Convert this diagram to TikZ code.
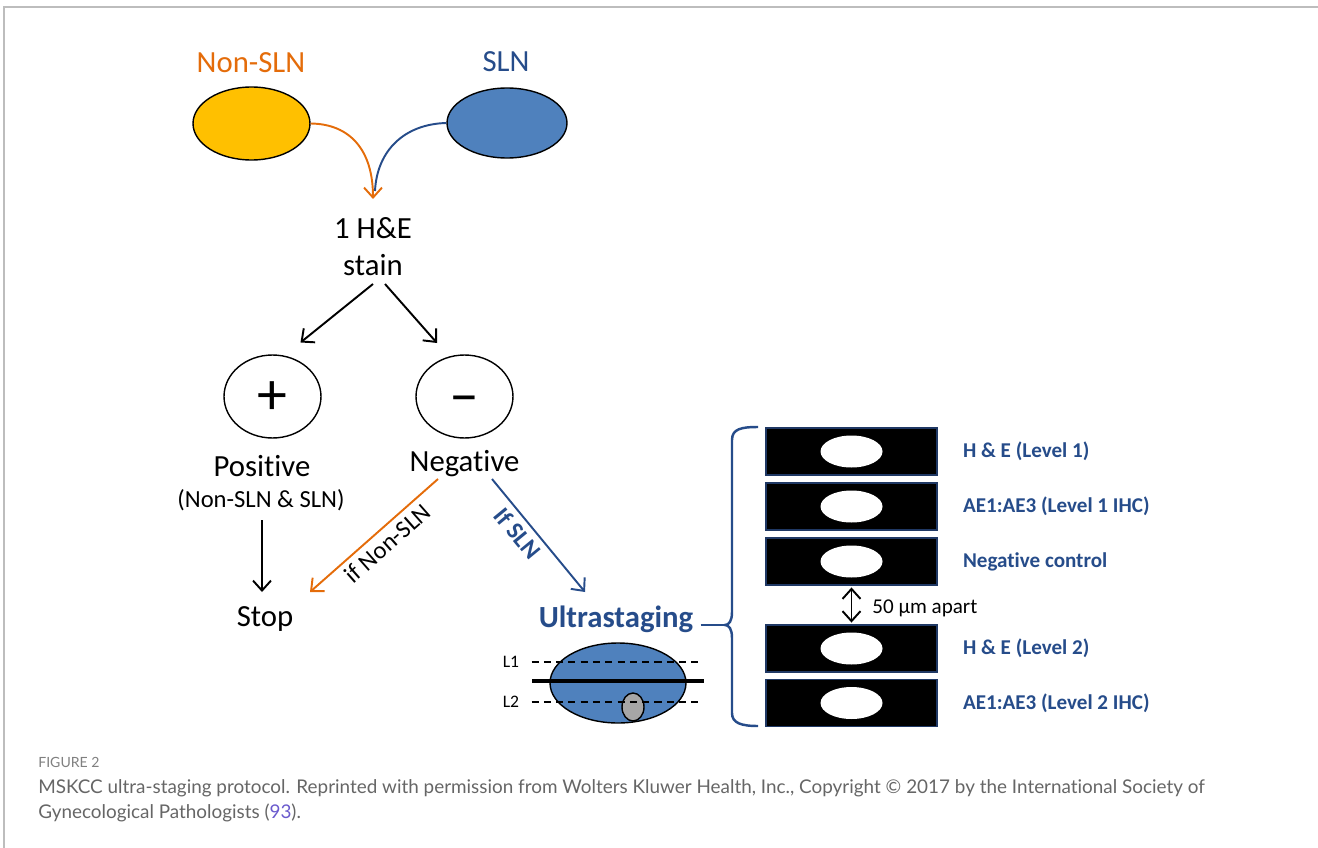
\documentclass[tikz,border=0pt]{standalone}
\usepackage{fontspec}
\setmainfont{Carlito}[Ligatures={TeX,NoCommon,NoContextual,NoRequired}]
\newfontfamily\captionfont{Lato}[Ligatures={TeX,NoCommon}]
\usepackage{tikz}
\usetikzlibrary{shapes.geometric, arrows.meta, positioning, calc}
\definecolor{nodeorange}{HTML}{E46C0A}
\definecolor{nodeyellow}{HTML}{FFC000}
\definecolor{nodeblue}{HTML}{4F81BD}
\definecolor{textblue}{HTML}{264C8A}
\definecolor{slideblue}{HTML}{1F3864}
\definecolor{tumorgray}{HTML}{A6A6A6}
\definecolor{framegray}{HTML}{BDBDBD}
\definecolor{captiongray}{HTML}{666666}
\definecolor{linkblue}{HTML}{6A5ACD}
\tikzset{
  bigtext/.style={font=\fontsize{17.5}{21}\selectfont, inner sep=0pt, align=center},
  smalltext/.style={font=\fontsize{14}{17}\selectfont, inner sep=0pt},
  lymphnode/.style={ellipse, draw=black, thick, inner sep=0pt},
  result/.style={
    ellipse, draw=black, thick,
    minimum width=1.94cm, minimum height=1.66cm,
    text height=20.5pt, text depth=0pt,
    inner sep=0pt, font=\fontsize{34}{34}\selectfont,
  },
  slidebox/.style={
    rectangle, fill=black, draw=slideblue, thick,
    minimum width=3.42cm, minimum height=0.94cm, inner sep=0pt,
  },
  tissue/.style={ellipse, fill=white, minimum width=1.24cm, minimum height=0.64cm, inner sep=0pt},
  slidetext/.style={font=\fontsize{12}{14}\selectfont\bfseries, text=textblue, inner sep=0pt, anchor=west},
  arrow/.style={-{Straight Barb[length=2mm, width=3.6mm]}, line width=1.1pt},
  twoway/.style={{Straight Barb[length=2mm, width=3.6mm]}-{Straight Barb[length=2mm, width=3.6mm]}, line width=1.1pt},
  bracket/.style={draw=textblue, line width=1.4pt},
  level/.style={dash pattern=on 4pt off 3pt, line width=0.8pt},
  caption/.style={font=\captionfont\fontsize{10.75}{14}\selectfont, text=captiongray, inner sep=0pt, anchor=base west},
}
\begin{document}
\begin{tikzpicture}[x=0.02cm, y=-0.02cm]
  \useasboundingbox (0,0) rectangle (1318,848);
  \draw[framegray, line width=1pt] (4,848) -- (4,7) -- (1318,7);

  \node[bigtext, text=nodeorange] (nonslntitle) at (251,63) {Non-SLN};
  \node[bigtext, text=textblue] (slntitle) at (506,62) {SLN};
  \node[lymphnode, fill=nodeyellow, minimum width=2.34cm, minimum height=1.46cm] (nonsln) at (251.5,123.5) {};
  \node[lymphnode, fill=nodeblue, minimum width=2.4cm, minimum height=1.4cm] (sln) at (507,123) {};
  \node[bigtext] (stain) at (373,247) {1 H\&E\\stain};
  \coordinate (merge) at (373,199);

  \draw[textblue, line width=1.1pt] (sln.west) .. controls (405,124) and (377,150) .. ($(merge)+(2,-8)$);
  \draw[arrow, nodeorange] (nonsln.east) .. controls (350,124) and (373,150) .. (merge);

  \node[result] (plus) at (272.5,396.5) {+};
  \node[result] (minus) at (464.5,396.5) {--};
  \draw[arrow] ($(stain)+(0,37)$) -- ($(plus)+(28,-54)$);
  \draw[arrow] ($(stain)+(12,37)$) -- ($(minus)+(-27.5,-53.5)$);

  \node[bigtext] (positive) at (262,466) {Posit\kern0pt ive};
  \node[smalltext] (posnote) at (261,500) {(Non-SLN \& SLN)};
  \node[bigtext] (negative) at (464.5,464) {Negat\kern0pt ive};
  \node[bigtext] (stop) at (265,619) {Stop};
  \node[bigtext, font=\fontsize{17.5}{21}\selectfont\bfseries, text=textblue] (ultra) at (616,619) {Ultrastaging};

  \draw[arrow] ($(posnote)+(1,20)$) -- ($(stop)+(-3,-27)$);
  \draw[arrow, nodeorange] ($(negative)+(-26.5,15)$) -- node[smalltext, sloped, below, pos=0.47, inner sep=3pt, text=black] {if Non-SLN} ($(stop)+(45,-27)$);
  \draw[arrow, textblue] ($(negative)+(27.5,15)$) -- node[smalltext, sloped, below, pos=0.4, inner sep=3pt, font=\fontsize{14}{17}\selectfont\bfseries] {If SLN} ($(ultra)+(-31,-27)$);

  \node[lymphnode, fill=nodeblue, minimum width=2.72cm, minimum height=1.6cm] (bundle) at (618,683) {};
  \node[lymphnode, fill=tumorgray, minimum width=0.44cm, minimum height=0.56cm] (tumor) at (633,707) {};
  \node[font=\fontsize{10}{12}\selectfont, inner sep=0pt] (l1) at (511,662) {L1};
  \node[font=\fontsize{10}{12}\selectfont, inner sep=0pt] (l2) at (511,702) {L2};
  \draw[level] ($(l1.east)+(12,0)$) -- ++(170,0);
  \draw[level] ($(l2.east)+(12,0)$) -- ++(170,0);
  \draw[line width=1.8pt] ($(bundle.west)+(-17,-2)$) -- ($(bundle.east)+(17,-2)$);

  \foreach \i/\y in {1/451.5, 2/506.5, 3/561.5, 4/648.5, 5/703} {
    \node[slidebox] (slide\i) at (851.5,\y) {};
    \node[tissue] (tissue\i) at (slide\i) {};
  }
  \node[slidetext, right=0.5cm of slide1] (label1) {H \& E (Level 1)};
  \node[slidetext, right=0.5cm of slide2] (label2) {AE1:AE3 (Level 1 IHC)};
  \node[slidetext, right=0.5cm of slide3] (label3) {Negat\kern0pt ive control};
  \node[slidetext, right=0.5cm of slide4] (label4) {H \& E (Level 2)};
  \node[slidetext, right=0.5cm of slide5] (label5) {AE1:AE3 (Level 2 IHC)};

  \draw[twoway, shorten <=1pt, shorten >=1pt] (slide3.south) -- (slide4.north);
  \node[font=\fontsize{12}{14}\selectfont, inner sep=0pt, anchor=west] (spacing) at (872,608) {50 µm apart};

  \coordinate (bracetip) at (725,625);
  \draw[bracket] (758,427) .. controls (741,427) and (732,429) .. (732,440) -- (732,612)
    .. controls (732,621) and (729,625) .. (bracetip)
    .. controls (729,625) and (732,629) .. (732,638) -- (732,713)
    .. controls (732,723) and (741,726) .. (758,726);
  \draw[bracket, shorten <=4pt] (ultra.east |- bracetip) -- (bracetip);

  \node[caption, font=\captionfont\fontsize{8}{9}\selectfont, text=gray] (figlabel) at (38,767) {FIGURE 2};
  \node[caption] (caption1) at (38,793) {MSKCC ultra-staging protocol. Reprinted with permission from Wolters Kluwer Health, Inc., Copyright © 2017 by the International Society of};
  \node[caption] (caption2) at (38,818) {Gynecological Pathologists ({\color{linkblue}93}).};
\end{tikzpicture}
\end{document}
